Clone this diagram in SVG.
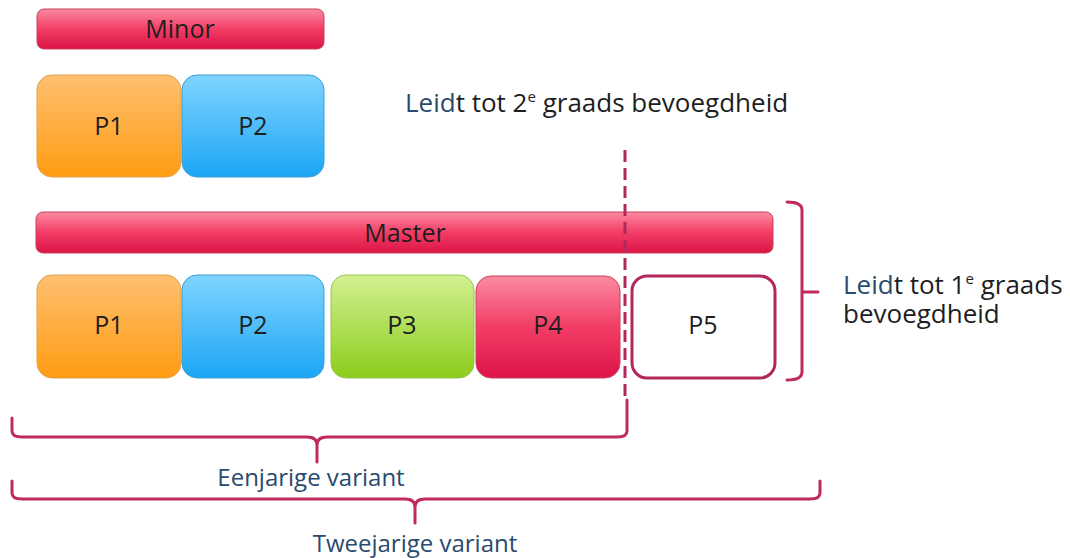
<svg xmlns="http://www.w3.org/2000/svg" width="1070" height="558" viewBox="0 0 1070 558">
<defs>
<linearGradient id="gRed" x1="0" y1="0" x2="0" y2="1"><stop offset="0" stop-color="#fb8aa0"/><stop offset="0.5" stop-color="#f23d66"/><stop offset="1" stop-color="#dc1446"/></linearGradient>
<linearGradient id="gOrange" x1="0" y1="0" x2="0" y2="1"><stop offset="0" stop-color="#ffc070"/><stop offset="1" stop-color="#ff9c12"/></linearGradient>
<linearGradient id="gBlue" x1="0" y1="0" x2="0" y2="1"><stop offset="0" stop-color="#80d4ff"/><stop offset="1" stop-color="#1ca6f4"/></linearGradient>
<linearGradient id="gGreen" x1="0" y1="0" x2="0" y2="1"><stop offset="0" stop-color="#d2f092"/><stop offset="1" stop-color="#8ccd1c"/></linearGradient>
</defs>
<style>
.bar{fill:url(#gRed);stroke:#c8415f;stroke-width:1}
.box{stroke-width:1}
.o{fill:url(#gOrange);stroke:#e4a04a}
.b{fill:url(#gBlue);stroke:#3a9fd6}
.g{fill:url(#gGreen);stroke:#98c44a}
.r{fill:url(#gRed);stroke:#c8415f}
.lbl{font-family:"Open Sans","Liberation Sans",sans-serif;font-size:25px;fill:#1e1e1e;text-anchor:middle}
.txt{font-family:"Open Sans","Liberation Sans",sans-serif;font-size:26px;fill:#1e1e1e}
.var{font-family:"Open Sans","Liberation Sans",sans-serif;font-size:24px;fill:#2a4a6e;text-anchor:middle}
.blue{fill:#2a4a6e}
.br{fill:none;stroke:#c02a5e;stroke-width:3;stroke-linejoin:round;stroke-linecap:round}
</style>
<g id="minor"><rect class="bar" x="37" y="9" width="287" height="40" rx="7"/><text class="lbl" x="180" y="38">Minor</text></g>
<g id="minor-p1"><rect class="box o" x="37" y="75" width="144" height="102" rx="15"/><text class="lbl" x="109" y="135">P1</text></g>
<g id="minor-p2"><rect class="box b" x="182" y="75" width="142" height="102" rx="15"/><text class="lbl" x="253" y="135">P2</text></g>
<g id="master"><rect class="bar" x="36" y="212" width="737" height="41" rx="7"/><text class="lbl" x="405" y="242">Master</text></g>
<g id="master-p1"><rect class="box o" x="37" y="275" width="144" height="103" rx="15"/><text class="lbl" x="109" y="334">P1</text></g>
<g id="master-p2"><rect class="box b" x="182" y="275" width="142" height="103" rx="15"/><text class="lbl" x="253" y="334">P2</text></g>
<g id="master-p3"><rect class="box g" x="331" y="275" width="143" height="103" rx="15"/><text class="lbl" x="402" y="334">P3</text></g>
<g id="master-p4"><rect class="box r" x="476" y="276" width="144" height="102" rx="15"/><text class="lbl" x="548" y="334">P4</text></g>
<g id="master-p5"><rect x="632" y="276" width="143" height="102" rx="15" fill="#ffffff" stroke="#b3285c" stroke-width="3"/><text class="lbl" x="703" y="334">P5</text></g>
<g id="connectors">
<line x1="625" y1="150" x2="625" y2="400" stroke="#b3285c" stroke-width="3" stroke-dasharray="12,6"/>
<path class="br" d="M787,202 Q802,202 802,210 L802,372 Q802,380 787,380 M802,292 L818,292"/>
<path class="br" d="M12,418 L12,431 Q12,437 22,437 L307,437 Q317,437 317,445 L317,462 M317,445 Q317,437 327,437 L617,437 Q627,437 627,431 L627,400"/>
<path class="br" d="M12,481 L12,493 Q12,499 22,499 L405,499 Q415,499 415,507 L415,523 M415,507 Q415,499 425,499 L810,499 Q820,499 820,493 L820,481"/>
</g>
<g id="label-2e"><text class="txt" x="405" y="112"><tspan class="blue">Leid</tspan>t tot 2<tspan font-size="15" dy="-10">e</tspan><tspan dy="10"> graads bevoegdheid</tspan></text></g>
<g id="label-1e"><text class="txt" x="843" y="294"><tspan class="blue">Leid</tspan>t tot 1<tspan font-size="15" dy="-10">e</tspan><tspan dy="10"> graads</tspan></text><text class="txt" x="843" y="323">bevoegdheid</text></g>
<g id="label-een"><text class="var" x="311" y="486">Eenjarige variant</text></g>
<g id="label-twee"><text class="var" x="415" y="552">Tweejarige variant</text></g>
</svg>
